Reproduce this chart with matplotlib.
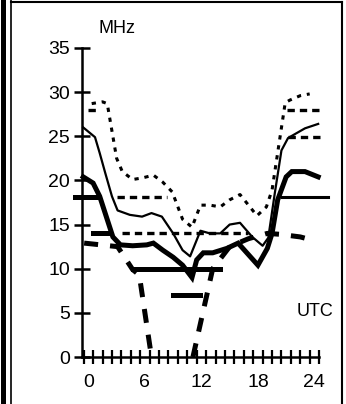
import numpy as np
import matplotlib
matplotlib.use("Agg")
import matplotlib.pyplot as plt
from matplotlib.lines import Line2D

plt.rcParams['font.family'] = ['Liberation Sans', 'DejaVu Sans']

# hours (UTC) and frequencies (MHz)
hours_dotted = [0.35, 1.5, 2.0, 3.0, 3.6, 4.7, 5.8, 6.9, 7.9, 8.9, 10.0, 11.0, 11.9,
                12.9, 14.0, 15.0, 16.1, 17.9, 18.9, 19.5, 20.9, 21.4, 22.5, 23.5]
mhz_dotted = [28.7, 28.9, 28.7, 22.5, 21.0, 20.1, 20.3, 20.6, 19.8, 18.7, 15.6, 14.7, 17.2,
              17.2, 17.0, 17.8, 18.4, 16.0, 17.0, 18.9, 28.8, 29.1, 29.6, 29.8]

hours_thin = [-0.55, 0.7, 1.2, 1.8, 2.5, 3.1, 4.4, 5.7, 6.7, 7.8, 9.0, 10.0, 10.8, 11.9,
              12.9, 14.0, 15.0, 16.1, 17.4, 18.5, 19.1, 19.8, 20.5, 21.2, 23.0, 24.4]
mhz_thin = [26.0, 24.9, 23.1, 20.8, 18.2, 16.6, 16.1, 15.9, 16.3, 15.9, 14.0, 12.1, 11.4, 14.3,
            14.0, 14.0, 15.0, 15.2, 13.6, 12.6, 13.5, 18.6, 23.4, 24.8, 25.9, 26.4]

hours_thick = [-0.55, 0.5, 1.2, 1.9, 2.6, 3.4, 4.7, 6.2, 6.9, 7.9, 9.0, 10.0, 11.0, 11.5,
               12.2, 13.2, 14.7, 15.9, 18.0, 19.0, 19.5, 20.1, 21.0, 21.6, 23.0, 24.4]
mhz_thick = [20.4, 19.7, 18.2, 15.9, 13.6, 12.7, 12.6, 12.7, 12.9, 12.1, 11.3, 10.4, 9.0, 11.0,
             11.8, 11.8, 12.3, 12.9, 10.4, 12.3, 14.0, 17.8, 20.4, 21.0, 21.0, 20.4]

# lowest usable frequency: drops out (no value) between about 7 and 11 UTC
hours_low = [-0.45, 3.1, 4.7, 5.4, 6.7, 8.9, 11.1, 13.2, 15.0, 17.0, 19.0, 20.3, 22.5, 23.9]
mhz_low = [12.9, 12.5, 9.9, 9.3, 0.0, np.nan, 0.0, 10.0, 12.5, 13.4, 14.0, 13.9, 13.6, 13.2]

# horizontal frequency bands: (MHz, from hour, to hour)
dashed_bands = [(28.0, 0.0, 1.2), (18.1, 3.0, 8.3), (14.0, 3.6, 17.0),
                (28.0, 21.1, 25.0), (24.9, 21.2, 25.0)]
bar_bands = [(18.1, -1.4, 1.0), (14.0, 0.5, 2.2), (10.0, 4.7, 14.0), (7.0, 9.0, 11.85)]
solid_bands = [(18.1, 20.6, 25.4)]

yticks = [0, 5, 10, 15, 20, 25, 30, 35]
xticks = [0, 6, 12, 18, 24]

W, H = 346, 404
fig = plt.figure(figsize=(W / 100, H / 100), dpi=100)
# axes placed so that hour h -> 88.4 + 9.417h px and 0..35 MHz -> 357..48 px
x0, x1 = -2.0, 26.0
y0, y1 = -1.0, 36.0
left = (88.4 + 9.417 * x0) / W
right = (88.4 + 9.417 * x1) / W
bot = 1 - (357 - 8.829 * y0) / H
top = 1 - (357 - 8.829 * y1) / H
ax = fig.add_axes([left, bot, right - left, top - bot])
ax.set_xlim(x0, x1)
ax.set_ylim(y0, y1)

ax.plot(hours_dotted, mhz_dotted, color='k', lw=2.2, dashes=(1.4, 1.9))
ax.plot(hours_thin, mhz_thin, color='k', lw=1.6)
ax.plot(hours_thick, mhz_thick, color='k', lw=3.6, solid_joinstyle='miter')
ax.plot(hours_low, mhz_low, color='k', lw=3.6, dashes=(2.8, 2.4))

for v, a, b in dashed_bands:
    ax.plot([a, b], [v, v], color='k', lw=2.4, dashes=(2.2, 1.5), clip_on=False)
for v, a, b in bar_bands:
    ax.plot([a, b], [v, v], color='k', lw=3.6, clip_on=False)
for v, a, b in solid_bands:
    ax.plot([a, b], [v, v], color='k', lw=2.2, clip_on=False)

for s in ['top', 'right']:
    ax.spines[s].set_visible(False)
ax.spines['left'].set_position(('data', -0.7))
ax.spines['left'].set_bounds(0, 35)
ax.spines['bottom'].set_position(('data', 0))
ax.spines['bottom'].set_bounds(-0.7, 24.5)
ax.spines['left'].set_linewidth(1.8)
ax.spines['bottom'].set_linewidth(1.8)

ax.set_yticks(yticks)
ax.tick_params(axis='y', direction='inout', length=11, width=1.8, labelsize=14, pad=3)
ax.set_xticks(xticks)
ax.set_xticks(np.arange(-0.5, 25, 1), minor=True)
ax.tick_params(axis='x', which='major', length=0, labelsize=14, pad=12)
ax.tick_params(axis='x', which='minor', direction='inout', length=10, width=1.6)
ax.patch.set_visible(False)

ax.text(3.0, 37.2, 'MHz', fontsize=13, ha='center', va='center')
ax.text(24.1, 5.15, 'UTC', fontsize=13, ha='center', va='center')

# scanned page frame
def px_line(xs, ys, lw):
    fig.add_artist(Line2D([x / W for x in xs], [1 - y / H for y in ys],
                          color='k', lw=lw, transform=fig.transFigure))

px_line([2.5, 2.5], [0, H], 3.6)
px_line([11, 11], [0, H], 1.2)
px_line([11, 342], [2, 2], 1.5)
px_line([342, 342], [2, H], 1.5)

fig.savefig('out.png', dpi=100)
